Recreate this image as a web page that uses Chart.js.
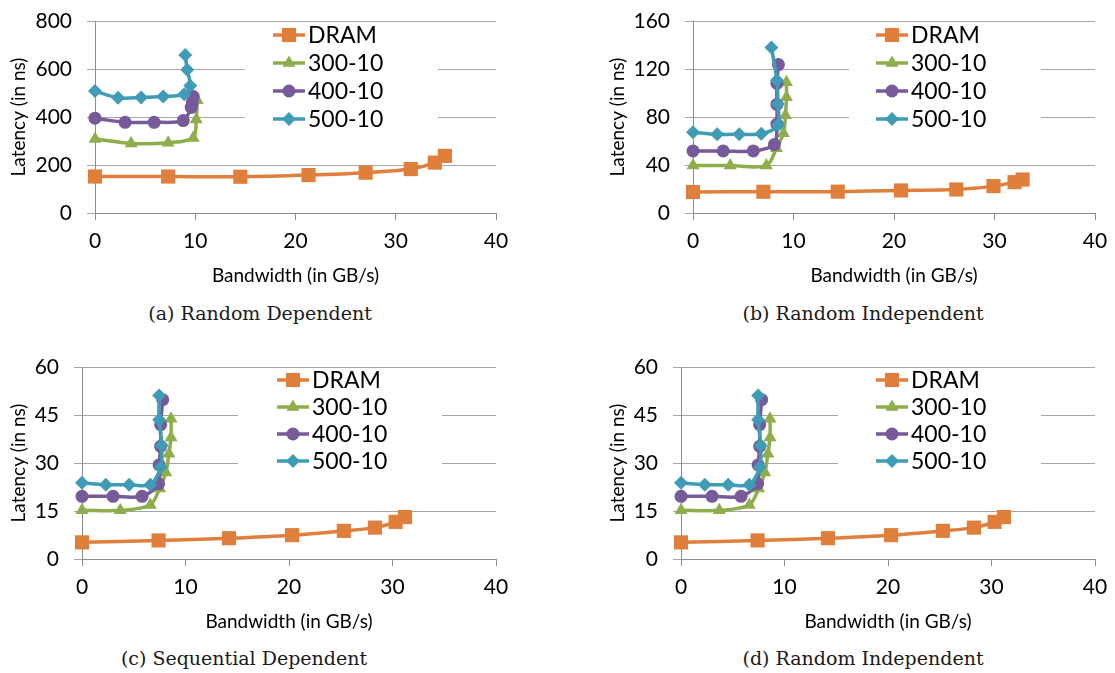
<!DOCTYPE html>
<html>
<head>
<meta charset="utf-8">
<script src="https://cdn.jsdelivr.net/npm/chart.js@4.4.1/dist/chart.umd.min.js"></script>
<style>
  body { margin: 0; background: #fff; }
  #page { position: relative; width: 1115px; height: 673px; overflow: hidden; }
  canvas { position: absolute; }
  .cap { position: absolute; width: 400px; text-align: center; font: 19px "DejaVu Serif", serif; color: #1a1a1a; line-height: 24px; }
</style>
</head>
<body>
<div id="page">
  <canvas id="ga" width="540" height="290" style="left:0;top:0"></canvas>
  <canvas id="gb" width="535" height="290" style="left:580px;top:0"></canvas>
  <canvas id="gc" width="540" height="290" style="left:0;top:346px"></canvas>
  <canvas id="gd" width="535" height="290" style="left:580px;top:346px"></canvas>
  <div class="cap" style="left:60px;top:301px">(a) Random Dependent</div>
  <div class="cap" style="left:663px;top:301px">(b) Random Independent</div>
  <div class="cap" style="left:44px;top:646px">(c) Sequential Dependent</div>
  <div class="cap" style="left:663px;top:646px">(d) Random Independent</div>
</div>
<script>
// series names
const seriesNames = ["DRAM", "300-10", "400-10", "500-10"];
const bwTicks = [0, 10, 20, 30, 40];

// (a) Random Dependent
const latTicksA = [0, 200, 400, 600, 800];
const dramBwA = [0, 7.3, 14.5, 21.3, 27.0, 31.5, 33.9, 34.9];
const dramLatA = [152, 152, 151, 158, 168, 183, 210, 238];
const s300BwA = [0, 3.6, 7.3, 9.8, 10.1, 10.2];
const s300LatA = [308, 290, 293, 313, 390, 470];
const s400BwA = [0, 3.0, 5.9, 8.8, 9.6, 9.7, 9.8];
const s400LatA = [395, 378, 378, 385, 440, 460, 485];
const s500BwA = [0, 2.3, 4.6, 6.8, 8.9, 9.5, 9.2, 9.0];
const s500LatA = [508, 480, 481, 485, 495, 530, 597, 658];

// (b) Random Independent
const latTicksB = [0, 40, 80, 120, 160];
const dramBwB = [0, 7.0, 14.4, 20.7, 26.2, 29.9, 32.0, 32.8];
const dramLatB = [17.5, 17.7, 17.8, 18.8, 19.6, 22.4, 25.7, 27.9];
const s300BwB = [0, 3.7, 7.3, 8.3, 9.0, 9.2, 9.3, 9.3];
const s300LatB = [39.5, 39.5, 39.5, 54, 66.5, 81.5, 96.5, 109];
const s400BwB = [0, 3.0, 6.0, 8.1, 8.35, 8.35, 8.35, 8.5];
const s400LatB = [51.7, 51.7, 51.7, 57, 74, 90.5, 108, 123.7];
const s500BwB = [0, 2.4, 4.6, 6.8, 8.45, 8.45, 8.35, 7.8];
const s500LatB = [67.3, 65.6, 65.6, 66, 73.3, 90.8, 110.7, 138];

// (c) Sequential Dependent
const latTicksC = [0, 15, 30, 45, 60];
const dramBwC = [0, 7.4, 14.2, 20.3, 25.3, 28.3, 30.3, 31.2];
const dramLatC = [5.2, 5.8, 6.5, 7.45, 8.8, 9.8, 11.6, 13.1];
const s300BwC = [0, 3.7, 6.6, 7.5, 8.1, 8.4, 8.6, 8.6];
const s300LatC = [15.2, 15.2, 16.9, 22, 27, 32.9, 38, 43.8];
const s400BwC = [0, 3.0, 5.8, 7.4, 7.45, 7.6, 7.6, 7.8];
const s400LatC = [19.6, 19.6, 19.6, 23.5, 29.4, 35.2, 42, 49.8];
const s500BwC = [0, 2.3, 4.56, 6.6, 7.6, 7.7, 7.45, 7.45];
const s500LatC = [23.8, 23.2, 23.2, 23.2, 28.7, 35.5, 43.5, 51.1];

// (d) same figures as (c) in the original
const latTicksD = latTicksC;

const colors = ["#E07F3B", "#8DAE4B", "#765A99", "#3F9BB6"];
const styles = ["rect", "triangle", "circle", "rectRot"];
const radii = [10, 7.5, 6.5, 7];

Chart.defaults.font.family = "Lato, sans-serif";
Chart.defaults.font.size = 19;
Chart.defaults.color = "#000";

const boxLegend = {
  id: "boxLegend",
  beforeDatasetsDraw(chart, args, opts) {
    const { ctx, chartArea } = chart;
    const x0 = chartArea.left + opts.x;
    const y0 = chartArea.top + opts.y;
    ctx.save();
    ctx.fillStyle = "#fff";
    ctx.fillRect(x0 - opts.padLeft, chartArea.top + 2, opts.padLeft + 165, opts.y + opts.gap * 3 + 14);
    chart.data.datasets.forEach((ds, i) => {
      const cy = y0 + i * opts.gap;
      ctx.strokeStyle = ds.borderColor;
      ctx.lineWidth = 3.5;
      ctx.beginPath();
      ctx.moveTo(x0, cy);
      ctx.lineTo(x0 + 32, cy);
      ctx.stroke();
      ctx.fillStyle = ds.borderColor;
      if (Chart.helpers && Chart.helpers.drawPoint) {
        Chart.helpers.drawPoint(ctx, { pointStyle: ds.pointStyle, radius: ds.pointRadius, borderWidth: 0, rotation: 0 }, x0 + 16, cy);
      }
      ctx.fillStyle = "#000";
      ctx.font = "23px Lato, sans-serif";
      ctx.textBaseline = "middle";
      ctx.textAlign = "left";
      ctx.fillText(ds.label, x0 + 35, cy + 1);
    });
    ctx.restore();
  }
};

function series(i, xs, ys) {
  return {
    label: seriesNames[i],
    data: xs.map((x, k) => ({ x: x, y: ys[k] })),
    borderColor: colors[i],
    backgroundColor: colors[i],
    pointBackgroundColor: colors[i],
    pointBorderWidth: 0,
    pointStyle: styles[i],
    pointRadius: radii[i],
    borderWidth: 3.5,
    showLine: true,
    tension: 0.3,
    clip: false,
    order: 4 - i
  };
}

function makePanel(id, latTicks, sets, cfg) {
  new Chart(document.getElementById(id), {
    type: "scatter",
    data: { datasets: sets },
    options: {
      responsive: false,
      animation: false,
      devicePixelRatio: 1,
      layout: { padding: { left: 0, top: cfg.padTop, right: cfg.padRight, bottom: 0 } },
      plugins: {
        legend: { display: false },
        tooltip: { enabled: false },
        boxLegend: cfg.legend
      },
      scales: {
        x: {
          type: "linear",
          min: bwTicks[0],
          max: bwTicks[bwTicks.length - 1],
          ticks: { stepSize: bwTicks[1] - bwTicks[0], padding: 9, font: { size: 21 } },
          grid: { drawOnChartArea: false, drawTicks: true, tickLength: 7, color: "#8c8c8c" },
          border: { color: "#8c8c8c" },
          title: { display: true, text: "Bandwidth (in GB/s)", padding: { top: 0, bottom: 3 } },
          afterFit(s) { s.height = cfg.xH; s.paddingLeft = 0; s.paddingRight = 0; }
        },
        y: {
          min: latTicks[0],
          max: latTicks[latTicks.length - 1],
          ticks: { stepSize: latTicks[1] - latTicks[0], padding: 15, font: { size: 21 } },
          grid: { color: "#a6a6a6", tickLength: 8 },
          border: { color: "#8c8c8c" },
          title: { display: true, text: "Latency (in ns)", padding: { top: cfg.titlePad, bottom: 0 } },
          afterFit(s) { s.width = cfg.yW; s.paddingTop = 0; s.paddingBottom = 0; }
        }
      }
    },
    plugins: [boxLegend]
  });
}

makePanel("ga", latTicksA, [
  series(0, dramBwA, dramLatA), series(1, s300BwA, s300LatA),
  series(2, s400BwA, s400LatA), series(3, s500BwA, s500LatA)
], { padTop: 21, padRight: 44, xH: 77, yW: 95, titlePad: 7, legend: { x: 178, y: 14, gap: 28, padLeft: 28 } });

makePanel("gb", latTicksB, [
  series(0, dramBwB, dramLatB), series(1, s300BwB, s300LatB),
  series(2, s400BwB, s400LatB), series(3, s500BwB, s500LatB)
], { padTop: 21, padRight: 20, xH: 77, yW: 113, titlePad: 26, legend: { x: 183, y: 14, gap: 28, padLeft: 27 } });

makePanel("gc", latTicksC, [
  series(0, dramBwC, dramLatC), series(1, s300BwC, s300LatC),
  series(2, s400BwC, s400LatC), series(3, s500BwC, s500LatC)
], { padTop: 21, padRight: 44, xH: 77, yW: 82, titlePad: 7, legend: { x: 195, y: 13, gap: 27, padLeft: 39 } });

makePanel("gd", latTicksD, [
  series(0, dramBwC, dramLatC), series(1, s300BwC, s300LatC),
  series(2, s400BwC, s400LatC), series(3, s500BwC, s500LatC)
], { padTop: 21, padRight: 20, xH: 77, yW: 101, titlePad: 26, legend: { x: 195, y: 13, gap: 27, padLeft: 38 } });
</script>
</body>
</html>
